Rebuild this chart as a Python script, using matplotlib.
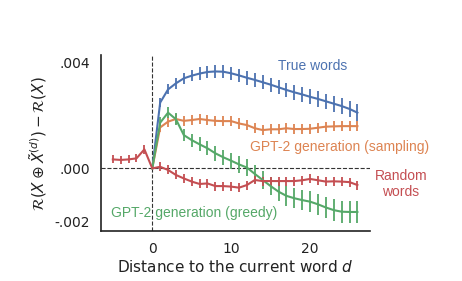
import numpy as np
import matplotlib.pyplot as plt

# distances
d_neg = [-5, -4, -3, -2, -1]
d_pos = list(range(0, 27))

true_words = [0.0, 0.00249, 0.00299, 0.00322, 0.00341, 0.00351, 0.00359, 0.00365, 0.00367,
              0.00366, 0.0036, 0.00352, 0.00343, 0.00335, 0.00326, 0.00317, 0.00307, 0.00297,
              0.00288, 0.0028, 0.00271, 0.00263, 0.00254, 0.00245, 0.00236, 0.00225, 0.00211]
sampling = [0.0, 0.00155, 0.00177, 0.00187, 0.0018, 0.00183, 0.00187, 0.00183, 0.0018,
            0.00179, 0.00179, 0.0017, 0.00164, 0.00152, 0.00145, 0.00148, 0.00148, 0.00152,
            0.00149, 0.00149, 0.0015, 0.00154, 0.00158, 0.00159, 0.0016, 0.0016, 0.0016]
greedy = [0.0, 0.00173, 0.00211, 0.00186, 0.00126, 0.00107, 0.00091, 0.00076, 0.00057,
          0.00042, 0.00029, 0.00015, 0.00003, -0.00021, -0.00044, -0.00067, -0.00088, -0.00104,
          -0.00113, -0.0012, -0.00126, -0.00136, -0.00148, -0.00158, -0.00164, -0.00165, -0.00165]
random_neg = [0.00034, 0.00032, 0.00034, 0.00038, 0.00072]
random_pos = [0.0, 0.00006, -0.00006, -0.00025, -0.00038, -0.0005, -0.00059, -0.00057, -0.00067,
              -0.00067, -0.00069, -0.00073, -0.00063, -0.00044, -0.00048, -0.00048, -0.00048, -0.00048,
              -0.00048, -0.00045, -0.0004, -0.00045, -0.0005, -0.00049, -0.0005, -0.00052, -0.00063]

# error bar half-widths
err_true = [0.0, 0.00018, 0.00019, 0.0002, 0.00021, 0.00022, 0.00023, 0.00024, 0.00025,
            0.00025, 0.00025, 0.00025, 0.00026, 0.00026, 0.00026, 0.00027, 0.00027, 0.00027,
            0.00028, 0.00028, 0.00028, 0.00029, 0.00029, 0.0003, 0.0003, 0.0003, 0.00031]
err_samp = [0.0] + [0.00019] * 26
err_greedy = [0.0, 0.0002, 0.00022, 0.00023, 0.00024, 0.00025, 0.00026, 0.00027, 0.00028,
              0.00029, 0.0003, 0.00031, 0.00032, 0.00033, 0.00034, 0.00035, 0.00036, 0.00037,
              0.00038, 0.00038, 0.00039, 0.0004, 0.0004, 0.00041, 0.00042, 0.00042, 0.00042]
err_rand_neg = [0.00015, 0.00015, 0.00015, 0.00015, 0.00017]
err_rand_pos = [0.0] + [0.00017] * 26

blue, orange, green, red = '#4C72B0', '#DD8452', '#55A868', '#C44E52'

fig = plt.figure(figsize=(4.62, 2.81), dpi=100)
ax = fig.add_axes([0.2186, 0.178, 0.5823, 0.626])

ax.axhline(0, color='#333333', linestyle='--', linewidth=0.8, zorder=1)
ax.axvline(0, color='#333333', linestyle='--', linewidth=0.8, zorder=1)

kw = dict(linewidth=1.5, elinewidth=1.3, capsize=0)
ax.errorbar(d_pos, true_words, yerr=err_true, color=blue, **kw)
ax.errorbar(d_pos, sampling, yerr=err_samp, color=orange, **kw)
ax.errorbar(d_pos, greedy, yerr=err_greedy, color=green, **kw)
ax.errorbar(d_neg + d_pos, random_neg + random_pos, yerr=err_rand_neg + err_rand_pos, color=red, **kw)

tfont = dict(family='Liberation Sans', fontsize=10)
ax.text(20.3, 0.00388, 'True words', color=blue, ha='center', va='center', **tfont)
ax.text(23.7, 0.00082, 'GPT-2 generation (sampling)', color=orange, ha='center', va='center', **tfont)
ax.text(31.5, -0.00058, 'Random\nwords', color=red, ha='center', va='center', linespacing=1.2, **tfont)
ax.text(5.35, -0.0017, 'GPT-2 generation (greedy)', color=green, ha='center', va='center', **tfont)

ax.set_xlim(-6.5, 27.6)
ax.set_ylim(-0.00237, 0.00429)
ax.set_xticks([0, 10, 20])
ax.set_yticks([-0.002, 0.0, 0.004])
ax.set_yticklabels(['-.002', '.000', '.004'])
ax.tick_params(length=0, labelsize=10, colors='#222222', pad=8)
for s in ['top', 'right']:
    ax.spines[s].set_visible(False)
for s in ['left', 'bottom']:
    ax.spines[s].set_linewidth(1.2)
    ax.spines[s].set_color('#222222')

ax.set_xlabel('Distance to the current word $d$', fontsize=11, color='#222222', labelpad=2)
ax.set_ylabel(r'$\mathcal{R}(X \oplus \tilde{X}^{(d)}) - \mathcal{R}(X)$', fontsize=11, color='#222222')

plt.savefig('out.png', dpi=100)
plt.close()
